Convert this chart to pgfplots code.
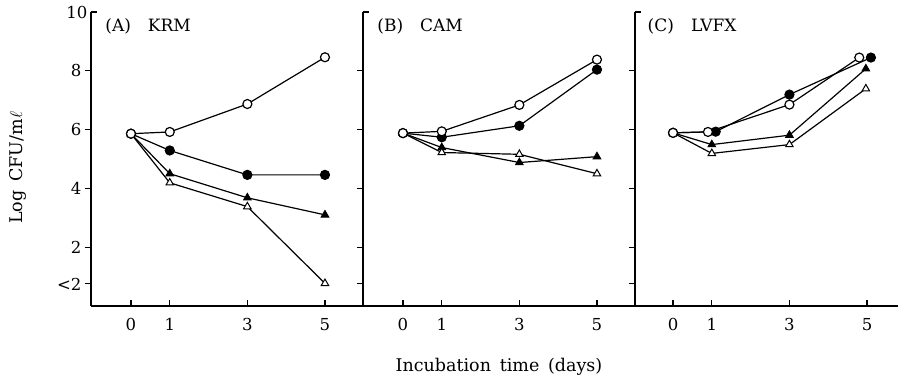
\documentclass[border=0pt]{standalone}
\usepackage{fontspec}
\setmainfont{DejaVu Serif}
\usepackage{pgfplots}
\pgfplotsset{compat=1.18}
\newcommand{\lblfont}{\fontsize{17.5}{20}\selectfont}
\tikzset{ttl/.style={anchor=west, font=\fontsize{17}{20}\selectfont}}
\begin{document}
\begin{tikzpicture}
\pgfplotsset{
  panel/.style={
    x=38.8pt, y=29.4pt,
    ymin=0, ymax=10,
    clip=false,
    axis x line=bottom, axis y line=left,
    axis line style={-, line width=1.4pt},
    tick align=outside,
    major tick length=6pt,
    xtick={0,1,3,5},
    xtick style={yshift=6pt, line width=1.1pt, black},
    ytick style={line width=1.1pt, black},
    ytick={0.75,2,4,6,8},
    extra y ticks={10},
    extra y tick style={tick align=inside},
    /pgf/number format/assume math mode=true,
    tick label style={font=\fontsize{16.5}{19}\selectfont},
    x tick label style={yshift=-3pt},
  },
  oc/.style={black, line width=1.2pt, mark=*, mark size=4.5pt, mark options={fill=white, line width=1.2pt}},
  fc/.style={black, line width=1.2pt, mark=*, mark size=4.5pt, mark options={fill=black}},
  ft/.style={black, line width=1.2pt, mark=triangle*, mark size=4.3pt, mark options={fill=black, line width=1pt}},
  ot/.style={black, line width=1.2pt, mark=triangle*, mark size=4.3pt, mark options={fill=white, line width=1pt}},
}
\path[use as bounding box] (-91pt,-71pt) rectangle (807pt,306pt);

% Panel A
\begin{axis}[panel, at={(0pt,0pt)}, xmin=-1.03, xmax=5.98,
  yticklabels={<2,2,4,6,8}, extra y tick labels={10},
  ylabel={Log\hspace{0.5em}CFU/m$\ell$},
  every axis y label/.style={at={(axis description cs:-0.27,0.47)}, rotate=90, anchor=center, font=\lblfont}]
\addplot[fc] coordinates {(0,5.86) (1,5.29) (3,4.46) (5,4.46)};
\addplot[ft] coordinates {(0,5.86) (1,4.50) (3,3.68) (5,3.10)};
\addplot[ot] coordinates {(0,5.86) (1,4.19) (3,3.38) (5,0.77)};
\addplot[oc] coordinates {(0,5.86) (1,5.92) (3,6.87) (5,8.46)};
\node[ttl] at (axis description cs:0.04,0.952) {(A)\hspace{1em}KRM};
\end{axis}

% Panel B
\begin{axis}[panel, at={(272pt,0pt)}, xmin=-1.03, xmax=5.98,
  yticklabels={}, extra y tick labels={},
  xlabel={Incubation\hspace{0.5em}time\hspace{0.5em}(days)},
  every axis x label/.style={at={(axis description cs:0.5,-0.2075)}, anchor=center, font=\lblfont}]
\addplot[fc] coordinates {(0,5.88) (1,5.74) (3,6.13) (5,8.04)};
\addplot[ft] coordinates {(0,5.88) (1,5.39) (3,4.88) (5,5.08)};
\addplot[ot] coordinates {(0,5.88) (1,5.22) (3,5.16) (5,4.50)};
\addplot[oc] coordinates {(0,5.88) (1,5.94) (3,6.84) (5,8.38)};
\node[ttl] at (axis description cs:0.04,0.952) {(B)\hspace{1em}CAM};
\end{axis}

% Panel C
\begin{axis}[panel, at={(544pt,0pt)}, xmin=-0.98, xmax=5.8,
  yticklabels={}, extra y tick labels={}]
\addplot[fc] coordinates {(0,5.89) (1.1,5.93) (3,7.19) (5.1,8.45)};
\addplot[ft] coordinates {(0,5.89) (1,5.49) (3,5.81) (4.97,8.07)};
\addplot[ot] coordinates {(0,5.89) (1,5.19) (3,5.49) (4.97,7.39)};
\addplot[oc] coordinates {(0,5.89) (0.9,5.92) (3,6.85) (4.8,8.45)};
\node[ttl] at (axis description cs:0.035,0.952) {(C)\hspace{1em}LVFX};
\end{axis}
\end{tikzpicture}
\end{document}
